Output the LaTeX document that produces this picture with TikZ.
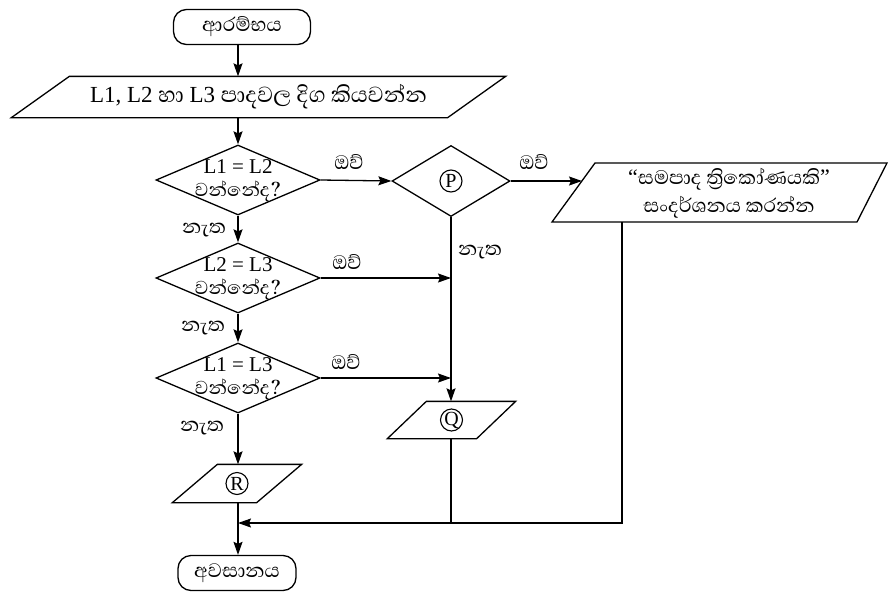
\documentclass[tikz,border=0pt]{standalone}
\usepackage{fontspec}
\setmainfont{Liberation Serif}
\newfontfamily\si[Script=Sinhala]{Abhaya Libre}
\usetikzlibrary{arrows.meta,shapes.geometric}
\begin{document}
\begin{tikzpicture}[x=1pt,y=-1pt,line width=1.3pt,
  flow/.style={-{Stealth[length=13pt,width=9pt,inset=2pt]}},
  term/.style={draw,rounded corners=13pt,minimum width=#1,minimum height=35pt,inner sep=0pt,font=\si\fontsize{25}{30}\selectfont},
  dec/.style={draw,diamond,minimum width=164pt,minimum height=70pt,inner sep=0pt},
  dtext/.style={align=center,inner sep=0pt,font=\fontsize{21}{23}\selectfont},
  body/.style={inner sep=0pt,minimum width=#1},
  lab/.style={inner sep=0pt,font=\si\fontsize{25}{26}\selectfont},
  circ/.style={circle,draw,line width=1.1pt,minimum size=22pt,inner sep=0pt,font=\fontsize{20}{20}\selectfont}]
\path[use as bounding box,clip] (0,0) rectangle (889,592);

% terminals
\node[term=137pt] (start) at (242,27) {ආරම්භය};
\node[term=118pt] (end) at (237,573) {අවසානය};

% input
\node[body=435pt,minimum height=40pt,font=\fontsize{23}{24}\selectfont] (inp) at (258.5,97)
  {L1, L2 {\si\fontsize{28}{24}\selectfont හා} L3 {\si\fontsize{28}{24}\selectfont පාදවල දිග කියවන්න}};
\draw ([xshift=29pt]inp.north west) -- ([xshift=29pt]inp.north east)
  -- ([xshift=-29pt]inp.south east) -- ([xshift=-29pt]inp.south west) -- cycle;

% decisions
\node[dec] (d1) at (238,180) {};
\node[dtext] (d1t) at (238,180.5) {L1 = L2\\{\si\fontsize{24}{23}\selectfont වන්නේද?}};
\node[dec] (d2) at (238,278) {};
\node[dtext] (d2t) at (238,278.5) {L2 = L3\\{\si\fontsize{24}{23}\selectfont වන්නේද?}};
\node[dec] (d3) at (238,378) {};
\node[dtext] (d3t) at (238,378.5) {L1 = L3\\{\si\fontsize{24}{23}\selectfont වන්නේද?}};
\node[draw,diamond,minimum width=118pt,minimum height=71pt,inner sep=0pt] (P) at (451,181) {};
\node[circ] (Pc) at (P) {P};

% output box
\coordinate (otl) at (595,163);
\coordinate (otr) at (887,163);
\coordinate (obr) at (857,222);
\coordinate (obl) at (552,222);
\draw (otl) -- (otr) -- (obr) -- (obl) -- cycle;
\node[align=center,inner sep=0pt,font=\si\fontsize{25}{28}\selectfont] (out) at (729,193)
  {{\rmfamily\fontsize{22}{28}\selectfont“}සමපාද ත්^^^^200dරිකෝණයකි{\rmfamily\fontsize{22}{28}\selectfont”}\\සංදර්ශනය කරන්න};
\coordinate (oin) at (582,181);
\coordinate (oout) at (622,222);

% Q and R
\node[body=88pt,minimum height=36pt] (Q) at (451.5,420) {};
\draw ([xshift=19.5pt]Q.north west) -- ([xshift=19.5pt]Q.north east)
  -- ([xshift=-19.5pt]Q.south east) -- ([xshift=-19.5pt]Q.south west) -- cycle;
\node[circ] (Qc) at (Q) {Q};
\node[body=83pt,minimum height=37pt] (R) at (237,483.5) {};
\draw ([xshift=22.5pt]R.north west) -- ([xshift=22.5pt]R.north east)
  -- ([xshift=-22.5pt]R.south east) -- ([xshift=-22.5pt]R.south west) -- cycle;
\node[circ] (Rc) at (R) {R};

\coordinate (j) at (238,523);

% connectors
\draw[flow] (start.south -| d1) -- (inp.north -| d1);
\draw[flow] (inp.south -| d1) -- (d1.north);
\draw[flow] (d1.south) -- (d2.north);
\draw[flow] (d2.south) -- (d3.north);
\draw[flow] (d3.south) -- (d3.south |- R.north);
\draw[flow] (R.south -| j) -- (end.north -| j);
\draw[flow] (d1.east) -- (P.west);
\draw[flow] (P.east) -- (oin);
\draw[flow] (P.south) -- (P.south |- Q.north);
\draw[flow] (d2.east) -- (d2.east -| P);
\draw[flow] (d3.east) -- (d3.east -| P);
\draw (Q.south -| P) -- (j -| P);
\draw[flow] (oout) -- (oout |- j) -- (j);

% labels
\node[lab] (y1) at (349,162) {ඔව්};
\node[lab] (y2) at (534,162) {ඔව්};
\node[lab] (y3) at (347,262) {ඔව්};
\node[lab] (y4) at (346,362) {ඔව්};
\node[lab] (n1) at (480,252) {නැත};
\node[lab] (n2) at (204,230) {නැත};
\node[lab] (n3) at (203,328) {නැත};
\node[lab] (n4) at (202,428) {නැත};
\end{tikzpicture}
\end{document}
